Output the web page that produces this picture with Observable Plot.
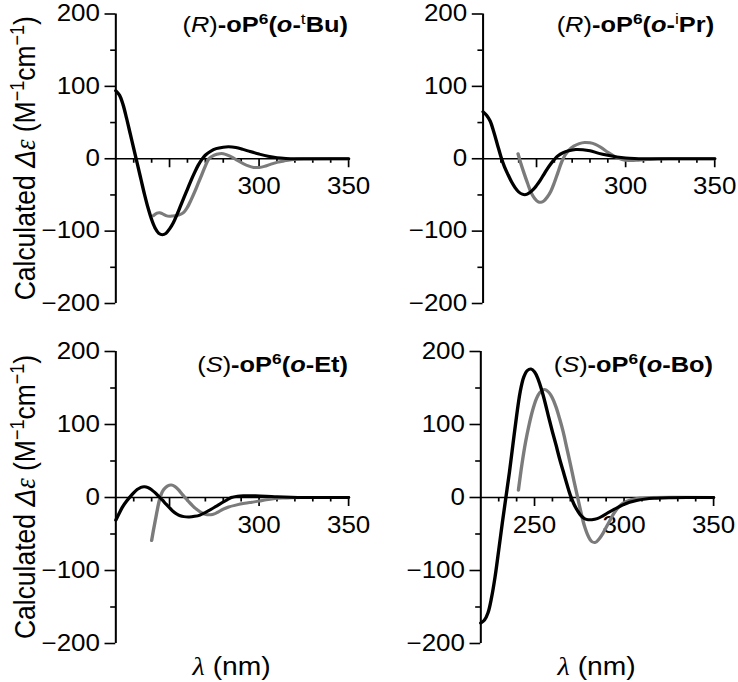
<!DOCTYPE html>
<html><head><meta charset="utf-8">
<script src="https://cdn.jsdelivr.net/npm/d3@7"></script>
<script src="https://cdn.jsdelivr.net/npm/@observablehq/plot@0.6"></script>
<style>
html,body{margin:0;padding:0;background:#fff;}
#wrap{position:relative;width:653px;height:682px;transform:scaleX(1.13);transform-origin:0 0;}
#wrap svg{position:absolute;}
</style></head><body><div id="wrap"></div>
<script>
// ---------- data ----------
const xDomain = [220, 350];
const yDomain = [-200, 200];
const yMajorTicks = [-200, -100, 0, 100, 200];
const yMinorTicks = [-150, -50, 50, 150];
const xMajorTicks = [250, 300, 350];
const xMinorTicks = [230, 240, 260, 270, 280, 290, 310, 320, 330, 340];
const xLabelsTop = [300, 350];
const xLabelsBo = [250, 300, 350];

// (R)-oP6(o-tBu)
const tbuBlackNm = [220,222,224,226,228,230,232,234,236,238,240,242,244,246,248,250,252,254,256,258,260,262,264,266,268,270,273,276,280,283,287,291,295,300,305,310,315,320,330,350];
const tbuBlackDe = [94,88,75,56,35,14,-7,-28,-49,-68,-84,-96,-103,-105,-103,-97,-89,-78,-66,-54,-42,-30,-19,-9,-1,5,10.5,14,16,16.5,15.5,13,10,6.5,3.5,1.5,0.5,0,0,0];
const tbuGrayNm = [241,243,244.5,246,248,250,252,254,256,258,260,262,264,266,268,270,272,275,278,280,282,285,288,291,294,297,300,303,306,310,314,318,325,350];
const tbuGrayDe = [-78.5,-75,-74.5,-76,-78.5,-79.5,-79,-78.5,-77,-74,-67,-57,-46,-34,-22,-10,0,5,7,7,5.5,2,-2.5,-6.5,-10,-12,-12,-10.5,-8,-5,-3,-1.5,-0.3,0];

// (R)-oP6(o-iPr)
const iprBlackNm = [220,222,224,226,228,230,232,234,236,238,240,242,244,246,248,250,252,254,256,258,260,262,265,268,272,276,280,285,290,295,300,305,310,350];
const iprBlackDe = [65,60,52,37,20,3,-11,-22,-32,-40,-46,-49,-49.5,-47,-43,-37,-30,-22,-14,-7,-1,4,8.5,11,12.8,12.5,11,7.5,4.8,2.5,1,0.3,0,0];
const iprGrayNm = [239.6,241,243,245,247,249,251,252.5,254,256,258,260,262,264,266,268,271,274,277,280,283,286,290,294,298,302,307,312,318,325,350];
const iprGrayDe = [7,-5,-20,-34,-47,-55,-59.5,-60,-58.5,-53,-45,-33,-19,-5,5,11.5,17.5,21,22.5,22,20,16,9,3,-1,-2.3,-2,-1.2,-0.3,0,0];

// (S)-oP6(o-Et)
const etBlackNm = [220,222,224,226,228,230,232,234,236,238,240,242,244,246,248,250,252,254,256,258,261,264,267,270,273,276,279,282,284.5,288,292,298,304,310,318,326,350];
const etBlackDe = [-31,-21,-12,-5,1,6.5,11,14,14.7,13.5,10.5,6.5,1.5,-3.5,-9,-14,-19,-22.5,-25,-26.2,-26.6,-25.8,-24,-20.5,-16.5,-12,-7.5,-3.5,0,1.8,2.3,2.3,1.8,1,0.3,0,0];
const etGrayNm = [240,241,242,243,244,245,246,247.5,249,251,253,255,257,259,261,263,265,267,269,271,273,275,277,280,283,287,292,296,300,304,308,313,318,325,350];
const etGrayDe = [-59,-45,-32,-19,-7,2,8,13,16,17,15,10.5,4.5,-1,-6.5,-11.5,-16,-19.5,-22.3,-23.5,-23.7,-22.5,-20,-16,-13,-10.5,-8,-6.5,-5,-3.2,-1.8,-0.8,-0.2,0,0];

// (S)-oP6(o-Bo)
const boBlackNm = [220,222,224,226,228,230,232,234,236,238,240,242,244,246,248,250,252,254,256,258,260,262,264,266,268,270,272,274,276,278,280,282,285,288,291,295,299,303,307,312,318,325,335,350];
const boBlackDe = [-172,-168,-158,-137,-108,-72,-35,0,35,74,112,145,165,174,176,172,162,147,129,109,90,72,53,36,19,3,-9,-18,-25,-29,-30.5,-30.5,-29,-25.5,-21,-15.5,-10.5,-6.5,-4,-2,-1,-0.3,0,0];
const boGrayNm = [241,243,245,247,249,251,253,255.5,258,260,262,264,266,268,270,272,274,276,278,280,282,284,286,288,290,292,294,297,300,304,308,315,350];
const boGrayDe = [10,46,76,100,120,135,144,148,144,136,124,108,90,68,46,23,1,-21,-40,-53,-60.5,-61.5,-57,-50,-41,-32,-23,-13,-7,-3,-1,0,0];

// titles as styled runs
const titleTbu = [{t:"("},{t:"R",i:1},{t:")"},{t:"-oP",b:1},{t:"6",b:1,sup:1},{t:"(",b:1},{t:"o",b:1,i:1},{t:"-",b:1},{t:"t",sup:1},{t:"Bu)",b:1}];
const titleIpr = [{t:"("},{t:"R",i:1},{t:")"},{t:"-oP",b:1},{t:"6",b:1,sup:1},{t:"(",b:1},{t:"o",b:1,i:1},{t:"-",b:1},{t:"i",sup:1},{t:"Pr)",b:1}];
const titleEt  = [{t:"("},{t:"S",i:1},{t:")"},{t:"-oP",b:1},{t:"6",b:1,sup:1},{t:"(",b:1},{t:"o",b:1,i:1},{t:"-Et)",b:1}];
const titleBo  = [{t:"("},{t:"S",i:1},{t:")"},{t:"-oP",b:1},{t:"6",b:1,sup:1},{t:"(",b:1},{t:"o",b:1,i:1},{t:"-Bo)",b:1}];
const yLabelRuns = [{t:"Calculated "},{t:"Δ",i:1},{t:"ε",i:1,serif:1},{t:" (M"},{t:"−1",sup:1},{t:"cm"},{t:"−1",sup:1},{t:")"}];
const xLabelRuns = [{t:"λ",i:1,serif:1},{t:" (nm)"}];

// ---------- drawing ----------
const SANS = "'Liberation Sans', Arial, Helvetica, sans-serif";
const SERIF = "'Liberation Serif', 'Times New Roman', serif";
const fmt = d => d < 0 ? "\u2212" + (-d) : String(d);
const zip = (a, b) => a.map((x, k) => ({nm: x, de: b[k]}));

function runs(sel, parts, size) {
  let shift = 0;
  for (const p of parts) {
    const ts = sel.append("tspan").text(p.t);
    if (p.i) ts.attr("font-style", "italic");
    if (p.b) ts.attr("font-weight", "bold");
    if (p.serif) ts.attr("font-family", SERIF);
    const target = p.sup ? -size * 0.36 : 0;
    if (target !== shift) { ts.attr("dy", target - shift); shift = target; }
    if (p.sup) ts.attr("font-size", size * 0.68);
  }
}

function panel(o) {
  const {left, top, width, height, ml, mr, mt, mb} = o;
  const kx = (width - ml - mr) / (xDomain[1] - xDomain[0]);
  const ky = (height - mt - mb) / (yDomain[1] - yDomain[0]);
  const yMaj = 9.5, yMin = 4.5, xMaj = 9, xMin = 4.5, pad = 4.5, tickFont = 23;
  const svg = Plot.plot({
    width, height, marginLeft: ml, marginRight: mr, marginTop: mt, marginBottom: mb,
    x: {domain: xDomain, axis: null},
    y: {domain: yDomain, axis: null},
    style: {fontFamily: SANS, background: "transparent", overflow: "visible", color: "#000"},
    marks: [
      Plot.ruleY([0], {stroke: "#000", strokeWidth: 1.5}),
      Plot.ruleX([xDomain[0]], {stroke: "#000", strokeWidth: 1.8}),
      Plot.ruleY(yMajorTicks, {y: d => d, x1: xDomain[0] - yMaj / kx, x2: xDomain[0], stroke: "#000", strokeWidth: 1.6}),
      Plot.ruleY(yMinorTicks, {y: d => d, x1: xDomain[0] - yMin / kx, x2: xDomain[0], stroke: "#000", strokeWidth: 1.6}),
      Plot.ruleX(xMajorTicks, {x: d => d, y1: 0, y2: -xMaj / ky, stroke: "#000", strokeWidth: 1.5}),
      Plot.ruleX(xMinorTicks, {x: d => d, y1: 0, y2: -xMin / ky, stroke: "#000", strokeWidth: 1.5}),
      Plot.text(yMajorTicks, {x: xDomain[0], y: d => d, text: fmt, textAnchor: "end", dx: -(yMaj + pad), fontSize: tickFont, fill: "#000"}),
      Plot.text(o.xLabels, {x: d => d, y: 0, text: d => String(d), dy: 28, fontSize: tickFont, fill: "#000"}),
      Plot.line(zip(o.grayNm, o.grayDe), {x: "nm", y: "de", stroke: "#7b7b7b", strokeWidth: 3, curve: "catmull-rom"}),
      Plot.line(zip(o.blackNm, o.blackDe), {x: "nm", y: "de", stroke: "#000", strokeWidth: 3, curve: "catmull-rom"})
    ]
  });
  svg.style.left = left + "px";
  svg.style.top = top + "px";
  const s = d3.select(svg);
  const tSize = 22.5;
  runs(s.append("text").attr("x", width - mr).attr("y", o.titleY).attr("text-anchor", "end")
        .attr("font-size", tSize).attr("font-family", SANS).attr("fill", "#000"), o.title, tSize);
  if (o.yLabel) {
    const ySize = 26.5;
    runs(s.append("text").attr("transform", `translate(31,${(mt + height - mb) / 2}) rotate(-90)`)
          .attr("text-anchor", "middle").attr("font-size", ySize).attr("font-family", SANS).attr("fill", "#000"),
         yLabelRuns, ySize);
  }
  if (o.xTitle) {
    const xs = 25;
    runs(s.append("text").attr("x", (ml + width - mr) / 2).attr("y", 335).attr("text-anchor", "middle")
          .attr("font-size", xs).attr("font-family", SANS).attr("fill", "#000"), xLabelRuns, xs);
  }
  document.getElementById("wrap").appendChild(svg);
}

panel({left: 0, top: 0, width: 326, height: 340, ml: 102, mr: 18, mt: 13.5, mb: 37, titleY: 32.5,
  blackNm: tbuBlackNm, blackDe: tbuBlackDe, grayNm: tbuGrayNm, grayDe: tbuGrayDe,
  title: titleTbu, xLabels: xLabelsTop, yLabel: true, xTitle: false});
panel({left: 326, top: 0, width: 327, height: 340, ml: 101, mr: 21, mt: 13.5, mb: 37, titleY: 32.5,
  blackNm: iprBlackNm, blackDe: iprBlackDe, grayNm: iprGrayNm, grayDe: iprGrayDe,
  title: titleIpr, xLabels: xLabelsTop, yLabel: false, xTitle: false});
panel({left: 0, top: 340, width: 326, height: 342, ml: 102, mr: 18, mt: 11, mb: 39, titleY: 32.5,
  blackNm: etBlackNm, blackDe: etBlackDe, grayNm: etGrayNm, grayDe: etGrayDe,
  title: titleEt, xLabels: xLabelsTop, yLabel: true, xTitle: true});
panel({left: 326, top: 340, width: 327, height: 342, ml: 99, mr: 22, mt: 11, mb: 39, titleY: 32.5,
  blackNm: boBlackNm, blackDe: boBlackDe, grayNm: boGrayNm, grayDe: boGrayDe,
  title: titleBo, xLabels: xLabelsBo, yLabel: false, xTitle: true});
</script>
</body></html>
